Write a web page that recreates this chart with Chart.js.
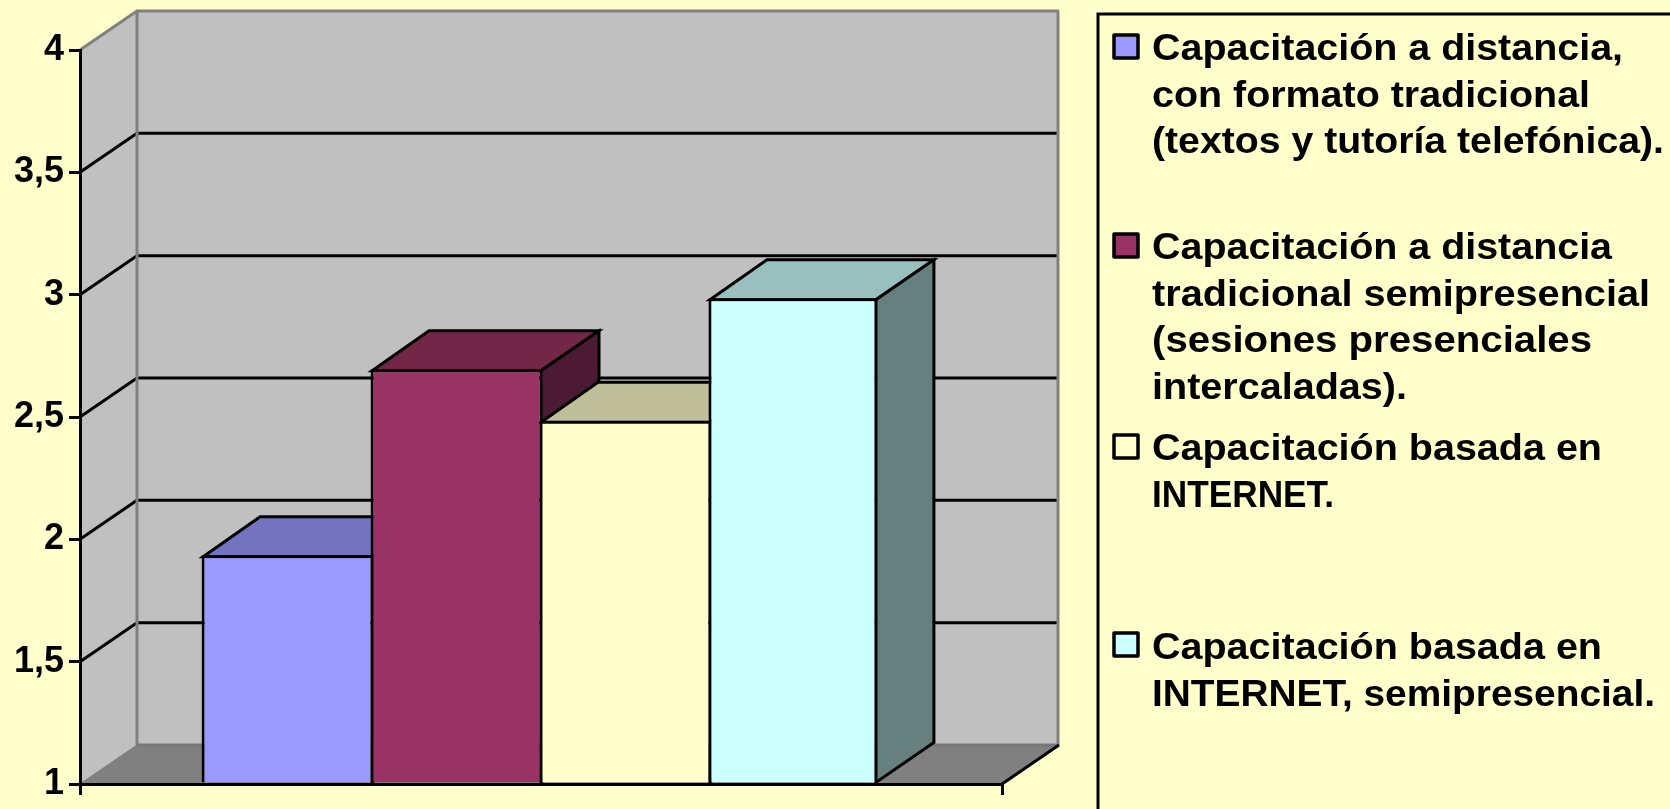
<!DOCTYPE html>
<html>
<head>
<meta charset="utf-8">
<title>Capacitación</title>
<script src="https://cdn.jsdelivr.net/npm/chart.js@4"></script>
<style>
  html, body { margin: 0; padding: 0; background: #ffffcc; overflow: hidden; }
  canvas { display: block; }
</style>
</head>
<body>
<canvas id="chart" width="1670" height="809"></canvas>
<script>
// data
const categories = [''];
const yTickLabels = ['1', '1,5', '2', '2,5', '3', '3,5', '4'];
const seriesNames = [
  'Capacitación a distancia, con formato tradicional (textos y tutoría telefónica).',
  'Capacitación a distancia tradicional semipresencial (sesiones presenciales intercaladas).',
  'Capacitación basada en INTERNET.',
  'Capacitación basada en INTERNET, semipresencial.'
];
const legendLines = [
  ['Capacitación a distancia,', 'con formato tradicional', '(textos y tutoría telefónica).'],
  ['Capacitación a distancia', 'tradicional semipresencial', '(sesiones presenciales', 'intercaladas).'],
  ['Capacitación basada en', 'INTERNET.'],
  ['Capacitación basada en', 'INTERNET, semipresencial.']
];
// width of each legend line in the original, the glyphs there are not evenly stretched
const legendWidths = [
  [471, 438, 512],
  [460, 498, 440, 255],
  [450, 182],
  [450, 503]
];
const seriesValues = [1.935, 2.695, 2.485, 2.985];

// colours: front, top, side of each box
const frontColors = ['#9999ff', '#993366', '#ffffcc', '#ccffff'];
const topColors = ['#7373bf', '#732645', '#bfbf99', '#99bfbf'];
const sideColors = ['#4d4d80', '#4d1a33', '#808066', '#668080'];

const DEPTH_X = 57;
const DEPTH_Y = -39;
const BAR_DEPTH_X = 58;
const BAR_DEPTH_Y = -40;
const LINE = 3;
const FONT = '"Liberation Sans", Arial, sans-serif';

function poly(ctx, pts, fill, stroke, width) {
  ctx.beginPath();
  pts.forEach((p, i) => i ? ctx.lineTo(p[0], p[1]) : ctx.moveTo(p[0], p[1]));
  ctx.closePath();
  if (fill) { ctx.fillStyle = fill; ctx.fill(); }
  if (stroke) { ctx.strokeStyle = stroke; ctx.lineWidth = width; ctx.stroke(); }
}

function line(ctx, x1, y1, x2, y2, color, width) {
  ctx.beginPath();
  ctx.moveTo(x1, y1);
  ctx.lineTo(x2, y2);
  ctx.strokeStyle = color;
  ctx.lineWidth = width;
  ctx.stroke();
}

// walls, floor and grid lines, then the top and side of each box
const box3d = {
  id: 'box3d',
  afterDatasetsUpdate(chart) {
    // the group sits a little left of the category centre in the original
    chart.data.datasets.forEach((ds, i) => { chart.getDatasetMeta(i).data[0].x -= 1.5; });
  },
  beforeDatasetsDraw(chart) {
    const ctx = chart.ctx;
    const { left, right, top, bottom } = chart.chartArea;
    const yScale = chart.scales.y;
    const bx = left + DEPTH_X, brx = right + DEPTH_X - 1;
    ctx.save();
    ctx.lineJoin = 'miter';

    poly(ctx, [[bx, top + DEPTH_Y], [brx, top + DEPTH_Y], [brx, bottom + DEPTH_Y], [bx, bottom + DEPTH_Y]], '#c0c0c0');
    poly(ctx, [[left, top], [bx, top + DEPTH_Y], [bx, bottom + DEPTH_Y], [left, bottom]], '#c0c0c0');
    poly(ctx, [[left, bottom], [bx, bottom + DEPTH_Y], [brx, bottom + DEPTH_Y], [right, bottom]], '#808080');

    yScale.ticks.forEach(t => {
      if (t.value === yScale.min || t.value === yScale.max) return;
      const y = yScale.getPixelForValue(t.value);
      line(ctx, left, y, bx, y + DEPTH_Y, '#000', LINE);
      line(ctx, bx, y + DEPTH_Y, brx, y + DEPTH_Y, '#000', LINE);
    });

    // grey edges of the walls
    line(ctx, left, top, bx, top + DEPTH_Y, '#808080', 3);
    line(ctx, bx - 1, top + DEPTH_Y, brx + 1, top + DEPTH_Y, '#808080', 3);
    line(ctx, bx, top + DEPTH_Y, bx, bottom + DEPTH_Y, '#808080', 3);
    line(ctx, brx, top + DEPTH_Y, brx, bottom + DEPTH_Y, '#808080', 3);
    line(ctx, bx, bottom + DEPTH_Y, brx, bottom + DEPTH_Y, '#777777', 3);
    line(ctx, left, bottom, bx, bottom + DEPTH_Y, '#777777', 1);
    line(ctx, right, bottom, brx + 1, bottom + DEPTH_Y, '#000', LINE);

    chart.data.datasets.forEach((ds, i) => {
      const bar = chart.getDatasetMeta(i).data[0];
      const l = bar.x - bar.width / 2 + LINE / 2;
      const r = bar.x + bar.width / 2 - (i === 3 ? LINE / 2 : -LINE / 2);
      const y = bar.y + LINE / 2;
      const b = bar.base;
      poly(ctx, [[l, y], [l + DEPTH_X, y + BAR_DEPTH_Y], [r + BAR_DEPTH_X, y + BAR_DEPTH_Y], [r, y]], topColors[i], '#000', LINE);
      poly(ctx, [[r, y], [r + BAR_DEPTH_X, y + BAR_DEPTH_Y], [r + BAR_DEPTH_X, b + BAR_DEPTH_Y], [r, b]], sideColors[i], '#000', LINE);
    });
    ctx.restore();
  },
  afterDraw(chart) {
    const ctx = chart.ctx;
    ctx.save();
    // legend box runs off the picture on the right and at the bottom
    poly(ctx, [[1098, 14], [1690, 14], [1690, 830], [1098, 830]], null, '#000', 3);
    const swatchTops = [35, 234, 435, 633];
    const firstBaselines = [60, 259, 460, 659];
    ctx.font = 'bold 36px ' + FONT;
    ctx.textBaseline = 'alphabetic';
    ctx.textAlign = 'left';
    legendLines.forEach((lines, i) => {
      ctx.lineJoin = 'round';
      poly(ctx, [[1114, swatchTops[i]], [1138, swatchTops[i]], [1138, swatchTops[i] + 23], [1114, swatchTops[i] + 23]],
        frontColors[i], '#000', 3.5);
      ctx.fillStyle = '#000';
      lines.forEach((text, n) => {
        ctx.save();
        ctx.translate(1152, firstBaselines[i] + n * 46.5);
        ctx.scale(legendWidths[i][n] / ctx.measureText(text).width, 1);
        ctx.fillText(text, 0, 0);
        ctx.restore();
      });
    });
    ctx.restore();
  }
};

new Chart(document.getElementById('chart'), {
  type: 'bar',
  data: {
    labels: categories,
    datasets: seriesValues.map((v, i) => ({
      label: seriesNames[i],
      data: [v],
      base: 1,
      backgroundColor: frontColors[i],
      borderColor: '#000',
      borderSkipped: false,
      borderWidth: { top: LINE, left: LINE, bottom: 0, right: i === 3 ? LINE : 0 },
      barPercentage: 1,
      categoryPercentage: 0.733
    }))
  },
  options: {
    responsive: false,
    animation: false,
    layout: { padding: { top: 50, right: 668, left: 0, bottom: 0 } },
    plugins: { legend: { display: false }, tooltip: { enabled: false } },
    scales: {
      x: {
        afterFit: s => { s.height = 25; },
        grid: { color: '#000', lineWidth: LINE, tickLength: 11, drawOnChartArea: false },
        border: { color: '#000', width: LINE, z: 1 },
        ticks: { display: false }
      },
      y: {
        min: 1,
        max: 4,
        afterFit: s => { s.width = 80; s.paddingTop = 0; s.paddingBottom = 0; },
        grid: { color: '#000', lineWidth: LINE, tickLength: 11, drawOnChartArea: false },
        border: { color: '#000', width: LINE, z: 1 },
        ticks: {
          stepSize: 0.5,
          padding: 5,
          color: '#000',
          font: { family: FONT, size: 36, weight: 'bold' },
          callback: (v, i) => yTickLabels[i]
        }
      }
    }
  },
  plugins: [box3d]
});
</script>
</body>
</html>
